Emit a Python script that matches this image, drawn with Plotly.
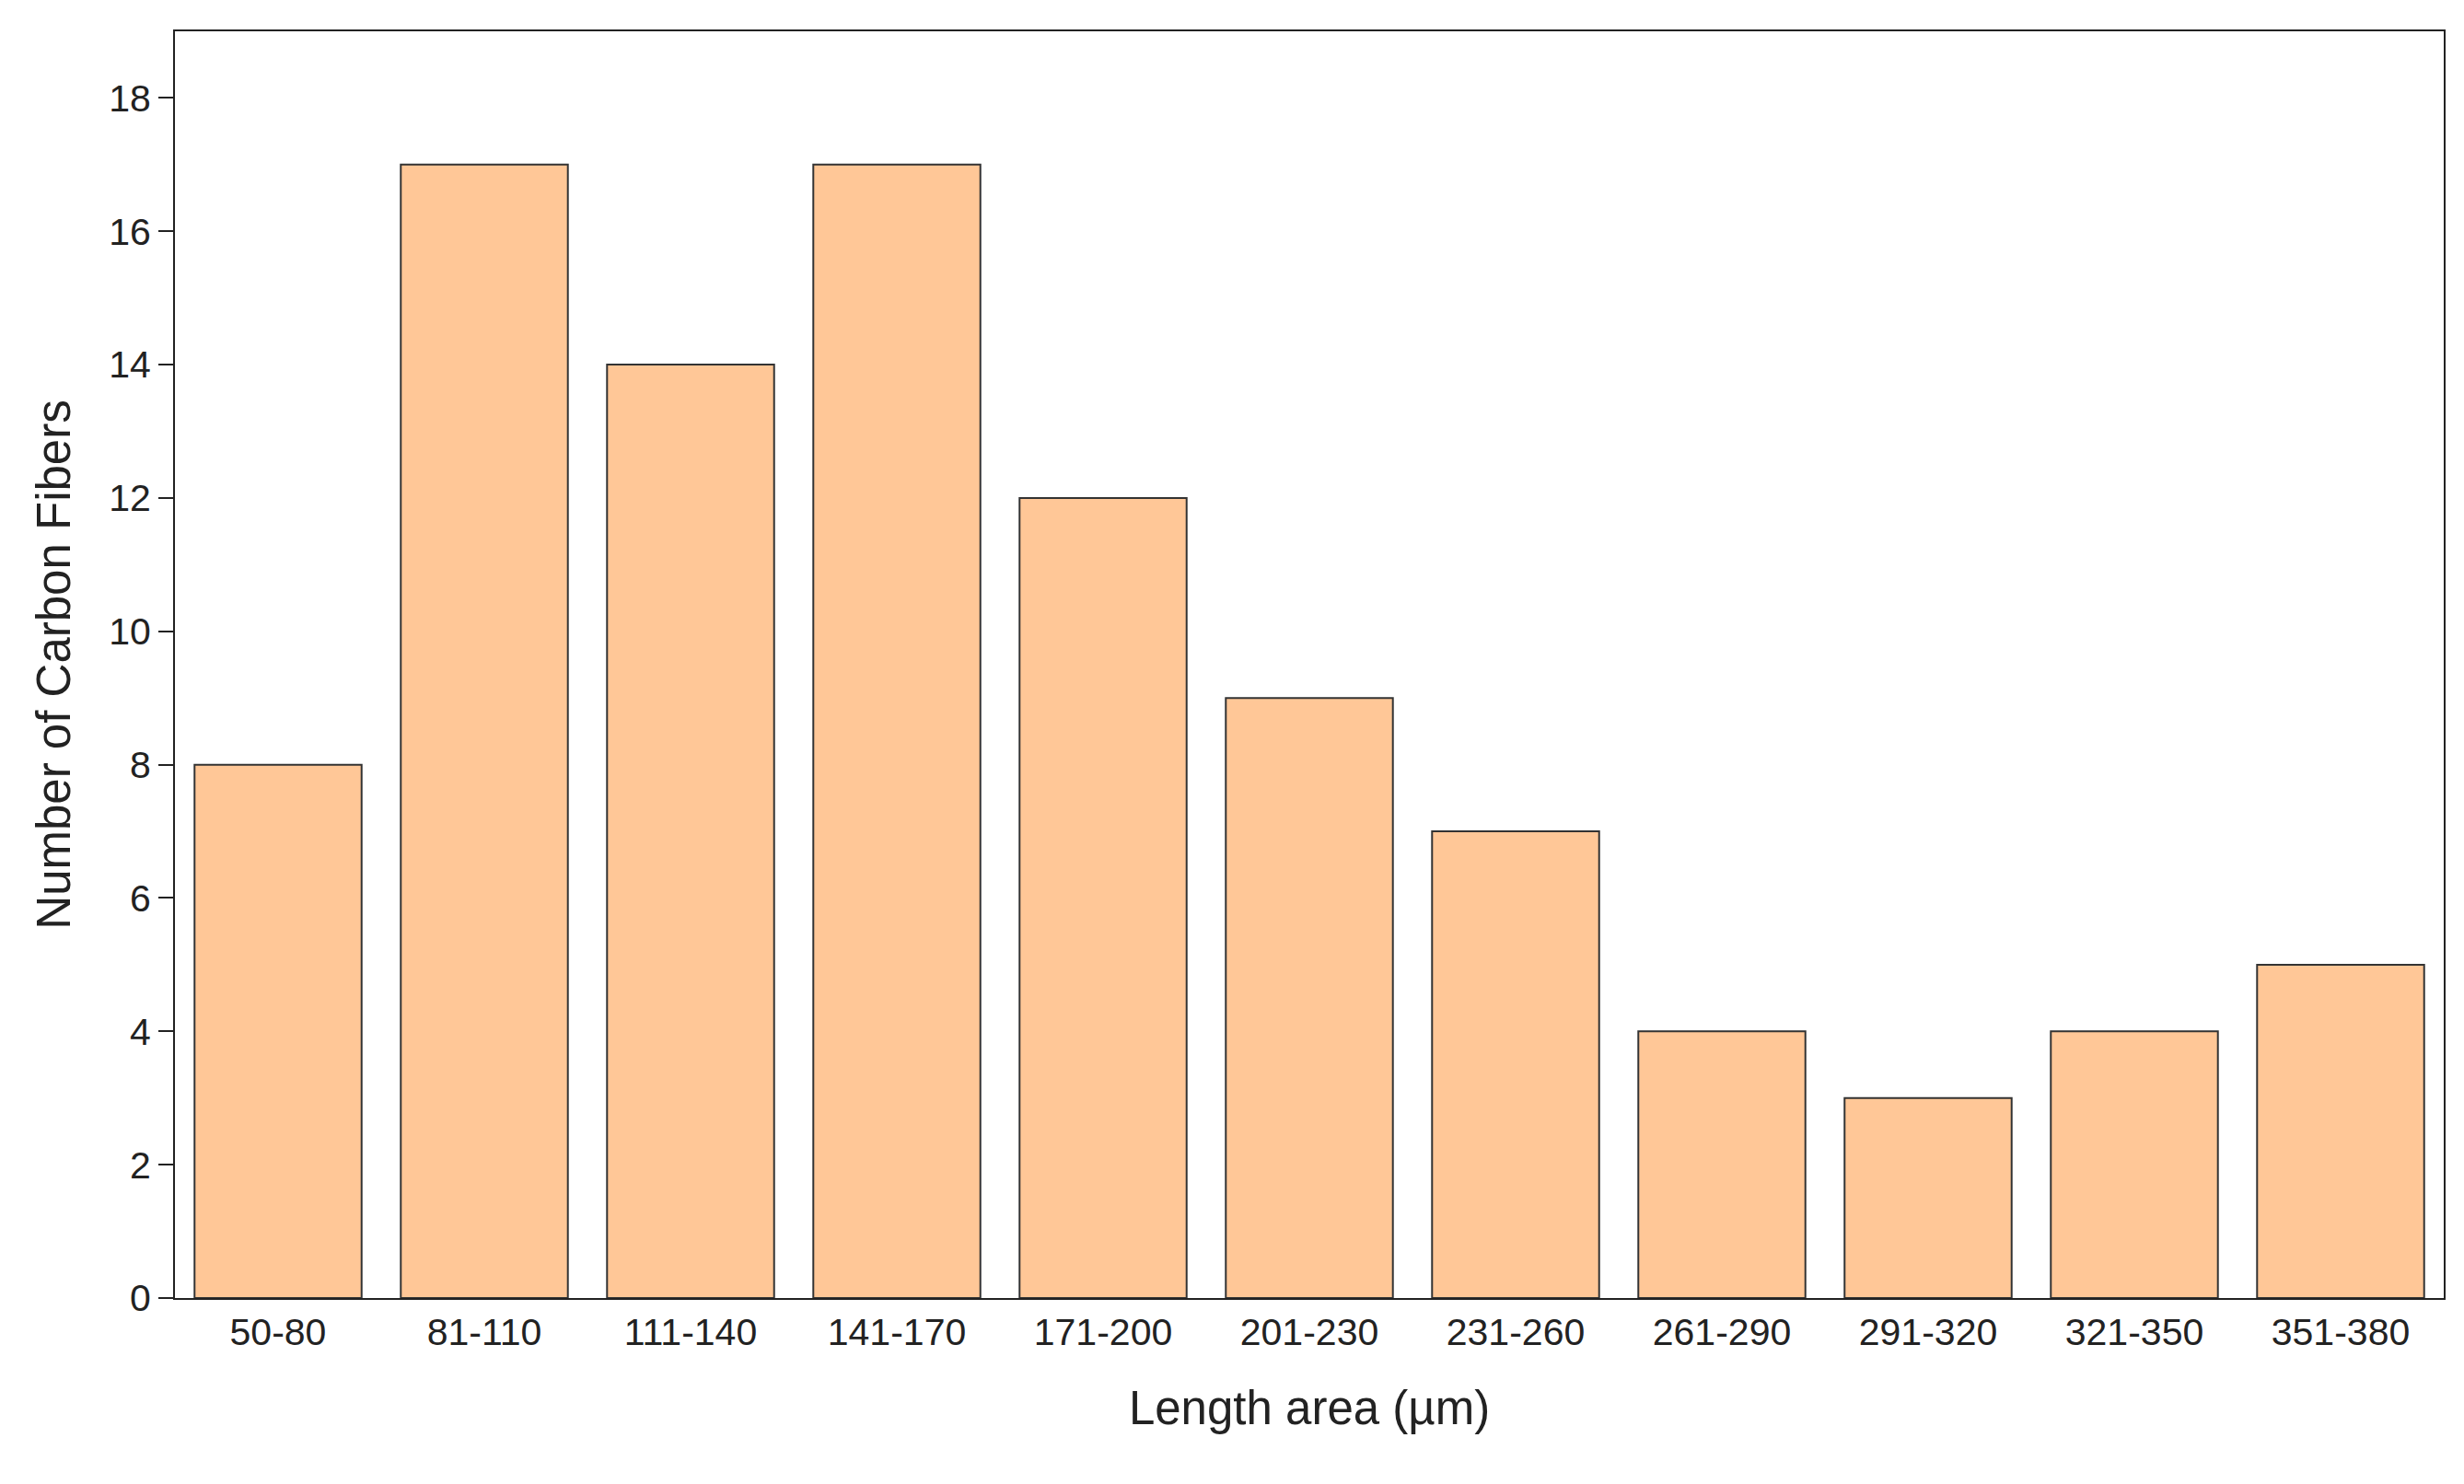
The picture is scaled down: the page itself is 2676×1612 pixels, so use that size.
import plotly.graph_objects as go

categories = ["50-80", "81-110", "111-140", "141-170", "171-200", "201-230",
              "231-260", "261-290", "291-320", "321-350", "351-380"]
counts = [8, 17, 14, 17, 12, 9, 7, 4, 3, 4, 5]
y_ticks = [0, 2, 4, 6, 8, 10, 12, 14, 16, 18]

fig = go.Figure()
fig.add_trace(go.Bar(
    x=categories,
    y=counts,
    marker=dict(color="#FFC797", line=dict(color="#333333", width=2)),
))

fig.update_layout(
    width=2676, height=1612,
    paper_bgcolor="white", plot_bgcolor="white",
    margin=dict(l=182, r=30, t=26, b=210),
    bargap=0.19,
    showlegend=False,
    font=dict(family="Liberation Sans, Arial, sans-serif", size=41, color="#222222"),
)
fig.update_xaxes(
    title=dict(text="Length area (µm)", font=dict(size=51), standoff=42),
    showline=True, linecolor="#222222", linewidth=2, mirror=True,
    ticks="", showgrid=False,
)
fig.update_yaxes(
    title=dict(text="Number of Carbon Fibers", font=dict(size=51), standoff=25),
    range=[0, 19], tickvals=y_ticks,
    showline=True, linecolor="#222222", linewidth=2, mirror=True,
    ticks="outside", ticklen=16, tickwidth=2, tickcolor="#222222",
    showgrid=False, zeroline=False,
)

fig.write_html("out.html")
